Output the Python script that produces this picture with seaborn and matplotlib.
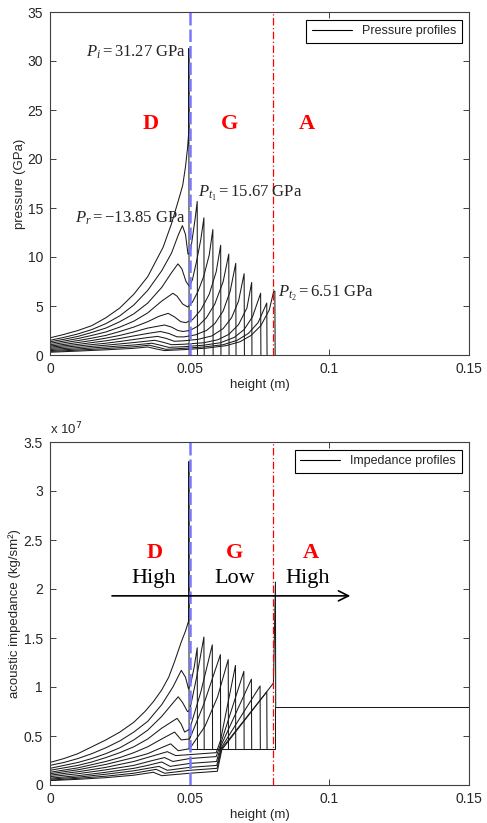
import matplotlib
matplotlib.use("Agg")
import matplotlib.pyplot as plt
from matplotlib.lines import Line2D
import seaborn as sns
import pandas as pd

# ---------------- data ----------------
# pressure profiles (GPa), each a list of (height m, pressure GPa)
pres_0 = [(0, 1.75), (0.005, 2.1), (0.01, 2.5), (0.015, 3.0), (0.02, 3.8), (0.025, 4.8), (0.03, 6.2),
          (0.035, 8.0), (0.0405, 11.0), (0.0435, 13.4), (0.0464, 16.2), (0.0475, 17.3), (0.0485, 19.2),
          (0.0492, 21.0), (0.0497, 22.8), (0.0497, 31.27), (0.0498, 0)]
pres_1 = [(0, 1.5), (0.005, 1.8), (0.01, 2.15), (0.015, 2.6), (0.02, 3.2), (0.025, 4.0), (0.03, 5.1),
          (0.035, 6.6), (0.04, 8.6), (0.0435, 10.4), (0.046, 12.3), (0.0474, 13.2), (0.0485, 12.3),
          (0.0494, 10.3), (0.0502, 10.4), (0.051, 12.0), (0.052, 14.0), (0.0527, 15.67), (0.0528, 0)]
pres_2 = [(0, 1.35), (0.005, 1.6), (0.01, 1.9), (0.015, 2.3), (0.02, 2.75), (0.025, 3.4), (0.03, 4.2),
          (0.035, 5.3), (0.04, 6.9), (0.0435, 8.4), (0.0458, 9.3), (0.0472, 8.8), (0.0487, 7.5),
          (0.0499, 7.0), (0.051, 7.7), (0.0525, 9.6), (0.054, 11.8), (0.0551, 14.0), (0.0552, 0)]
pres_3 = [(0, 1.2), (0.005, 1.42), (0.01, 1.68), (0.015, 2.0), (0.02, 2.35), (0.025, 2.85), (0.03, 3.45),
          (0.035, 4.3), (0.04, 5.5), (0.044, 6.3), (0.0455, 6.0), (0.0475, 5.2), (0.0493, 4.9),
          (0.051, 5.4), (0.053, 6.5), (0.055, 8.0), (0.057, 10.2), (0.0583, 12.8), (0.0584, 0)]
pres_4 = [(0, 1.05), (0.005, 1.25), (0.01, 1.47), (0.015, 1.72), (0.02, 2.0), (0.025, 2.4), (0.03, 2.85),
          (0.035, 3.4), (0.039, 3.95), (0.0423, 4.25), (0.0445, 3.9), (0.0468, 3.4), (0.0486, 3.3),
          (0.051, 3.6), (0.054, 4.6), (0.057, 6.2), (0.0595, 8.5), (0.0611, 11.2), (0.0612, 0)]
pres_5 = [(0, 0.92), (0.005, 1.08), (0.01, 1.27), (0.015, 1.48), (0.02, 1.72), (0.025, 2.0), (0.03, 2.35),
          (0.035, 2.75), (0.041, 3.06), (0.0435, 2.85), (0.0458, 2.5), (0.0476, 2.4), (0.05, 2.5),
          (0.053, 2.95), (0.056, 3.8), (0.059, 5.2), (0.062, 7.5), (0.064, 10.3), (0.0641, 0)]
pres_6 = [(0, 0.8), (0.01, 1.08), (0.02, 1.45), (0.025, 1.68), (0.03, 1.95), (0.035, 2.2), (0.0395, 2.4),
          (0.0425, 2.2), (0.0455, 1.85), (0.048, 1.85), (0.052, 2.05), (0.056, 2.5), (0.059, 3.2),
          (0.062, 4.5), (0.0645, 6.5), (0.0665, 9.36), (0.0666, 0)]
pres_7 = [(0, 0.68), (0.01, 0.92), (0.02, 1.2), (0.025, 1.38), (0.03, 1.58), (0.035, 1.78), (0.0385, 1.9),
          (0.0415, 1.7), (0.0445, 1.4), (0.048, 1.45), (0.053, 1.6), (0.058, 1.95), (0.062, 2.7),
          (0.065, 3.8), (0.0675, 5.5), (0.0695, 8.3), (0.0696, 0)]
pres_8 = [(0, 0.56), (0.01, 0.76), (0.02, 1.0), (0.025, 1.13), (0.03, 1.27), (0.0375, 1.5), (0.0405, 1.3),
          (0.0435, 1.05), (0.048, 1.1), (0.055, 1.25), (0.06, 1.55), (0.064, 2.1), (0.0675, 3.1),
          (0.0705, 4.8), (0.0722, 7.4), (0.0723, 0)]
pres_9 = [(0, 0.45), (0.01, 0.62), (0.02, 0.82), (0.03, 1.02), (0.0365, 1.2), (0.0395, 1.0), (0.0425, 0.78),
          (0.048, 0.85), (0.055, 1.0), (0.061, 1.25), (0.066, 1.8), (0.0695, 2.6), (0.0725, 3.9),
          (0.0754, 6.3), (0.0755, 0)]
pres_10 = [(0, 0.36), (0.01, 0.5), (0.02, 0.66), (0.03, 0.84), (0.0355, 1.0), (0.0385, 0.8), (0.0415, 0.58),
           (0.048, 0.68), (0.055, 0.82), (0.062, 1.05), (0.067, 1.5), (0.071, 2.2), (0.0745, 3.3),
           (0.0776, 5.3), (0.0777, 0)]
pres_11 = [(0, 0.28), (0.01, 0.4), (0.02, 0.53), (0.03, 0.68), (0.035, 0.82), (0.038, 0.62), (0.041, 0.45),
           (0.048, 0.55), (0.056, 0.7), (0.063, 0.95), (0.068, 1.35), (0.072, 2.0), (0.0755, 3.0),
           (0.0785, 4.6), (0.0801, 6.51), (0.0805, 6.51), (0.0806, 0)]

# acoustic impedance profiles (x 1e7 kg/sm^2)
imp_0 = [(0, 0.23), (0.005, 0.27), (0.01, 0.32), (0.015, 0.39), (0.02, 0.46), (0.025, 0.54), (0.03, 0.64),
         (0.034, 0.75), (0.037, 0.85), (0.04, 0.97), (0.0425, 1.1), (0.0446, 1.26), (0.047, 1.46),
         (0.0485, 1.57), (0.0497, 1.68), (0.0497, 3.3), (0.0498, 0.37)]
imp_1 = [(0, 0.2), (0.005, 0.23), (0.01, 0.27), (0.015, 0.32), (0.02, 0.38), (0.025, 0.45), (0.03, 0.54),
         (0.035, 0.65), (0.04, 0.82), (0.044, 1.0), (0.047, 1.17), (0.0485, 1.1), (0.0496, 0.98),
         (0.0505, 1.05), (0.0516, 1.2), (0.0527, 1.40), (0.0528, 0.37)]
imp_2 = [(0, 0.17), (0.005, 0.2), (0.01, 0.23), (0.015, 0.27), (0.02, 0.32), (0.025, 0.38), (0.03, 0.46),
         (0.035, 0.56), (0.04, 0.7), (0.0435, 0.82), (0.0459, 0.9), (0.0475, 0.84), (0.0492, 0.75),
         (0.05, 0.76), (0.0525, 1.1), (0.0551, 1.51), (0.0552, 0.37)]
imp_3 = [(0, 0.15), (0.005, 0.175), (0.01, 0.2), (0.015, 0.235), (0.02, 0.28), (0.025, 0.33), (0.03, 0.39),
         (0.035, 0.47), (0.04, 0.58), (0.0455, 0.68), (0.047, 0.62), (0.0482, 0.54), (0.05, 0.57),
         (0.054, 0.95), (0.0581, 1.43), (0.0582, 0.37)]
imp_4 = [(0, 0.13), (0.01, 0.175), (0.02, 0.24), (0.025, 0.28), (0.03, 0.33), (0.035, 0.39), (0.04, 0.47),
         (0.0446, 0.54), (0.047, 0.46), (0.05, 0.47), (0.055, 0.82), (0.061, 1.33), (0.0611, 0.37)]
imp_5 = [(0, 0.115), (0.01, 0.155), (0.02, 0.21), (0.03, 0.28), (0.035, 0.32), (0.039, 0.37), (0.0432, 0.42),
         (0.0459, 0.35), (0.05, 0.37), (0.0555, 0.6), (0.06, 0.9), (0.0638, 1.28), (0.0639, 0.37)]
imp_6 = [(0, 0.1), (0.01, 0.135), (0.02, 0.18), (0.03, 0.24), (0.036, 0.29), (0.042, 0.34), (0.045, 0.3),
         (0.05, 0.31), (0.0595, 0.33), (0.061, 0.45), (0.0664, 1.22), (0.0665, 0.37)]
imp_7 = [(0, 0.085), (0.01, 0.115), (0.02, 0.155), (0.03, 0.2), (0.036, 0.245), (0.041, 0.28), (0.044, 0.24),
         (0.05, 0.27), (0.0595, 0.29), (0.0611, 0.42), (0.0694, 1.16), (0.0695, 0.37)]
imp_8 = [(0, 0.07), (0.01, 0.095), (0.02, 0.13), (0.03, 0.17), (0.035, 0.2), (0.04, 0.235), (0.043, 0.19),
         (0.05, 0.22), (0.0596, 0.24), (0.0612, 0.4), (0.0721, 1.08), (0.0722, 0.37)]
imp_9 = [(0, 0.06), (0.01, 0.08), (0.02, 0.11), (0.03, 0.145), (0.039, 0.19), (0.042, 0.15), (0.05, 0.18),
         (0.0597, 0.2), (0.0613, 0.38), (0.0752, 1.01), (0.0753, 0.37)]
imp_10 = [(0, 0.05), (0.01, 0.068), (0.02, 0.09), (0.03, 0.12), (0.038, 0.16), (0.041, 0.12), (0.05, 0.15),
          (0.0598, 0.17), (0.0614, 0.37), (0.0776, 0.95), (0.0777, 0.37)]
imp_11 = [(0, 0.045), (0.01, 0.058), (0.02, 0.075), (0.03, 0.1), (0.037, 0.13), (0.040, 0.095), (0.05, 0.12),
          (0.0599, 0.14), (0.0615, 0.36), (0.0800, 1.04), (0.0807, 2.07), (0.0808, 0.8)]
imp_ahead = [(0.05, 0.37), (0.0806, 0.37), (0.0806, 0.8), (0.15, 0.8)]

pressure_curves = [pres_0, pres_1, pres_2, pres_3, pres_4, pres_5, pres_6, pres_7, pres_8, pres_9, pres_10, pres_11]
impedance_curves = [imp_0, imp_1, imp_2, imp_3, imp_4, imp_5, imp_6, imp_7, imp_8, imp_9, imp_10, imp_11, imp_ahead]

interface_DG = 0.05
interface_GA = 0.08


def to_frame(curves):
    rows = []
    for i, c in enumerate(curves):
        for j, (x, y) in enumerate(c):
            rows.append({"curve": i, "order": j, "x": x, "y": y})
    return pd.DataFrame(rows)


df_p = to_frame(pressure_curves)
df_z = to_frame(impedance_curves)

# ---------------- style ----------------
sns.set_theme(style="ticks")
plt.rcParams["font.family"] = ["Liberation Sans", "DejaVu Sans"]
plt.rcParams["mathtext.fontset"] = "custom"
plt.rcParams["mathtext.rm"] = "Liberation Serif"
plt.rcParams["mathtext.it"] = "Liberation Serif:italic"
plt.rcParams["xtick.direction"] = "in"
plt.rcParams["ytick.direction"] = "in"

fig = plt.figure(figsize=(4.87, 8.23), dpi=100)
ax1 = fig.add_axes([50 / 487, 1 - 355 / 823, 419 / 487, 343 / 823])
ax2 = fig.add_axes([50 / 487, 1 - 785 / 823, 419 / 487, 343 / 823])

line_color = "#1a1a1a"
serif = ["Liberation Serif", "DejaVu Serif"]

for ax, df in ((ax1, df_p), (ax2, df_z)):
    sns.lineplot(data=df, x="x", y="y", units="curve", estimator=None, sort=False,
                 color=line_color, lw=0.75, ax=ax, legend=False)
    ax.axvline(interface_DG, color="#7878ff", lw=1.8, ls=(0, (5, 1.6)), zorder=3)
    ax.axvline(interface_GA, color="#ff0000", lw=0.9, ls=(0, (6, 2, 1, 2)), zorder=3)
    ax.set_xlim(0, 0.15)
    ax.set_xticks([0, 0.05, 0.1, 0.15])
    ax.set_xticklabels(["0", "0.05", "0.1", "0.15"])
    ax.set_xlabel("height (m)", fontsize=9.5, labelpad=2)
    ax.tick_params(axis="both", labelsize=10, length=4, width=0.7, color="#404040",
                   top=True, right=True, direction="in", pad=5)
    for s in ax.spines.values():
        s.set_color("#404040")
        s.set_linewidth(0.8)

# ---- top: pressure ----
ax1.set_ylim(0, 35)
ax1.set_yticks(range(0, 36, 5))
ax1.set_ylabel("pressure (GPa)", fontsize=9.5, labelpad=1)
leg1 = ax1.legend(handles=[Line2D([], [], color="black", lw=0.8)], labels=["Pressure profiles"],
                  loc="upper right", fontsize=9, frameon=True, fancybox=False, framealpha=1,
                  edgecolor="black", borderaxespad=0.6, handlelength=3.2, borderpad=0.45)
leg1.get_frame().set_linewidth(0.8)

ax1.text(0.0487, 30.9, r"$P_i = 31.27\ \mathrm{GPa}$", fontsize=12, ha="right", va="center")
ax1.text(0.0485, 14.0, r"$P_r = -13.85\ \mathrm{GPa}$", fontsize=12, ha="right", va="center")
ax1.text(0.0531, 16.5, r"$P_{t_1} = 15.67\ \mathrm{GPa}$", fontsize=12, ha="left", va="center")
ax1.text(0.0818, 6.3, r"$P_{t_2} = 6.51\ \mathrm{GPa}$", fontsize=12, ha="left", va="center")

for lab, x in (("D", 0.0362), ("G", 0.0643), ("A", 0.0918)):
    ax1.text(x, 23.6, lab, color="red", fontsize=16, fontweight="bold", family=serif,
             ha="center", va="center")

# ---- bottom: impedance ----
ax2.set_ylim(0, 3.5)
ax2.set_yticks([0, 0.5, 1, 1.5, 2, 2.5, 3, 3.5])
ax2.set_yticklabels(["0", "0.5", "1", "1.5", "2", "2.5", "3", "3.5"])
ax2.set_ylabel("acoustic impedance (kg/sm²)", fontsize=9.5, labelpad=2)
ax2.text(0.0, 1.015, r"x 10$^7$", transform=ax2.transAxes, fontsize=9.5, ha="left", va="bottom",
         family=["Liberation Sans"], math_fontfamily="dejavusans")
leg2 = ax2.legend(handles=[Line2D([], [], color="black", lw=0.8)], labels=["Impedance profiles"],
                  loc="upper right", fontsize=9, frameon=True, fancybox=False, framealpha=1,
                  edgecolor="black", borderaxespad=0.6, handlelength=3.2, borderpad=0.45)
leg2.get_frame().set_linewidth(0.8)

for lab, x in (("D", 0.0375), ("G", 0.066), ("A", 0.0935)):
    ax2.text(x, 2.37, lab, color="red", fontsize=16, fontweight="bold", family=serif,
             ha="center", va="center")
for lab, x in (("High", 0.037), ("Low", 0.066), ("High", 0.0922)):
    ax2.text(x, 2.11, lab, color="black", fontsize=16, family=serif, ha="center", va="center")
ax2.annotate("", xy=(0.1085, 1.93), xytext=(0.0212, 1.93),
             arrowprops=dict(arrowstyle="->", color="black", lw=1.2, mutation_scale=18), zorder=4)

fig.savefig("out.png", dpi=100)
